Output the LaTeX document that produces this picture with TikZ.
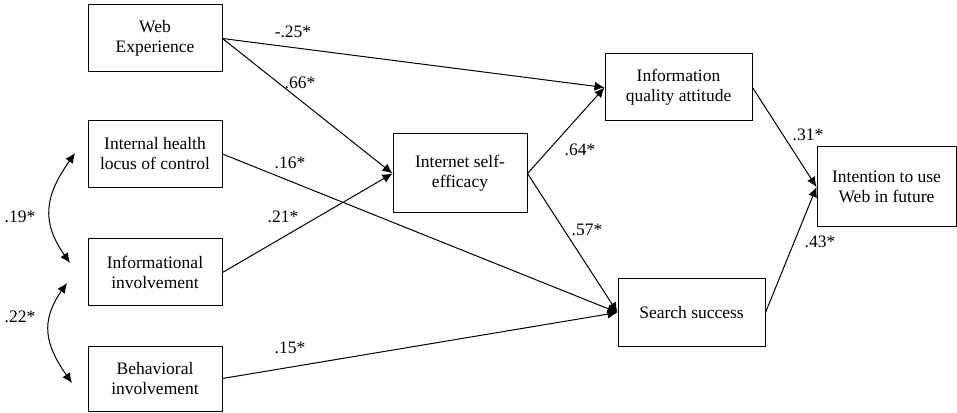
\documentclass[tikz,border=0pt]{standalone}
\usepackage{fontspec}
\setmainfont{Liberation Serif}
\usetikzlibrary{arrows.meta}
\begin{document}
\begin{tikzpicture}[x=1pt, y=1pt,
    box/.style={rectangle, draw, line width=1pt, align=center, minimum width=134pt, minimum height=67pt, inner sep=2pt, font=\fontsize{17.5}{20}\selectfont},
    coef/.style={inner sep=1pt, font=\fontsize{17.5}{20}\selectfont},
    arrow/.style={-{Latex[length=10pt,width=9pt]}, line width=1pt},
    corr/.style={{Latex[length=10pt,width=9pt]}-{Latex[length=10pt,width=9pt]}, line width=1pt}
]
\useasboundingbox (0,0) rectangle (957,412);

% Predictors
\node[box] (web) at (155,373.5) {Web\\Experience};
\node[box] (ihl) at (155,258) {Internal health\\locus of control};
\node[box] (inf) at (155,139.5) {Informational\\involvement};
\node[box, minimum height=65pt] (beh) at (155,33.5) {Behavioral\\involvement};

% Mediators
\node[box, minimum height=79pt] (ise) at (460,238.5) {Internet self-\\efficacy};
\node[box, minimum width=147pt] (iqa) at (678.5,324.5) {Information\\quality attitude};
\node[box, minimum width=147pt] (ss) at (691.5,99.5) {Search success};

% Outcome
\node[box, minimum width=139pt, minimum height=80pt] (int) at (886.5,225) {Intention to use\\Web in future};

% Paths
\draw[arrow] (web.east) -- (iqa.west);
\draw[arrow] (web.east) -- (ise.west);
\draw[arrow] (ihl.east) -- (ss.west);
\draw[arrow] (inf.east) -- (ise.west);
\draw[arrow] (beh.east) -- (ss.west);
\draw[arrow] (ise.east) -- (iqa.west);
\draw[arrow] (ise.east) -- (ss.west);
\draw[arrow] (iqa.east) -- (int.west);
\draw[arrow] (ss.east) -- (int.west);

% Correlations
\coordinate (c1a) at (75,259);
\coordinate (c1b) at (70,149);
\coordinate (c2a) at (67,129);
\coordinate (c2b) at (72,29);
\draw[corr] (c1a) to[out=235, in=125, looseness=1.2] (c1b);
\draw[corr] (c2a) to[out=235, in=125, looseness=1.2] (c2b);

% Coefficients
\node[coef] (k25) at (293,380) {-.25*};
\node[coef] (k66) at (300,329) {.66*};
\node[coef] (k16) at (290,249) {.16*};
\node[coef] (k21) at (283,195) {.21*};
\node[coef] (k15) at (290,64) {.15*};
\node[coef] (k64) at (580,262) {.64*};
\node[coef] (k57) at (587,182) {.57*};
\node[coef] (k31) at (808,277) {.31*};
\node[coef] (k43) at (820,170) {.43*};
\node[coef] (k19) at (20,195) {.19*};
\node[coef] (k22) at (20,95) {.22*};

\end{tikzpicture}
\end{document}
